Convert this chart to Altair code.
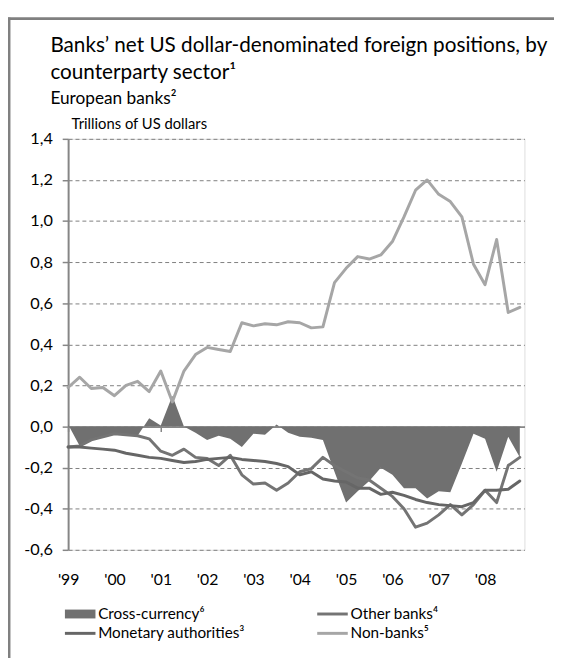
import json
import altair as alt
import pandas as pd

# ---------------- data ----------------
QUARTERS = list(range(40))  # 1999Q1 ... 2008Q4 (quarter index)
YEAR_TICKS = [0, 4, 8, 12, 16, 20, 24, 28, 32, 36]
YEAR_LABELS = ["'99", "'00", "'01", "'02", "'03", "'04", "'05", "'06", "'07", "'08"]
Y_TICKS = [-0.6, -0.4, -0.2, 0.0, 0.2, 0.4, 0.6, 0.8, 1.0, 1.2, 1.4]

SERIES = ["Cross-currency⁶", "Other banks⁴", "Monetary authorities³", "Non-banks⁵"]
COLORS = ["#707070", "#747474", "#666666", "#a6a6a6"]

CROSS_CURRENCY = [0.01, -0.095, -0.065, -0.05, -0.035, -0.04, -0.045, 0.04, 0.005, 0.15,
                  0.0, -0.03, -0.065, -0.045, -0.06, -0.10, -0.035, -0.04, 0.01, -0.03,
                  -0.05, -0.055, -0.065, -0.22, -0.37, -0.315, -0.265, -0.20, -0.235, -0.30,
                  -0.30, -0.35, -0.315, -0.32, -0.18, -0.035, -0.06, -0.22, -0.05, -0.15]
OTHER_BANKS = [-0.10, -0.095, -0.065, -0.05, -0.035, -0.04, -0.045, -0.06, -0.12, -0.14,
               -0.11, -0.15, -0.155, -0.19, -0.14, -0.235, -0.28, -0.275, -0.31, -0.275,
               -0.22, -0.205, -0.15, -0.19, -0.22, -0.25, -0.26, -0.30, -0.34, -0.40,
               -0.49, -0.47, -0.43, -0.38, -0.43, -0.38, -0.31, -0.37, -0.19, -0.15]
MONETARY = [-0.10, -0.10, -0.105, -0.11, -0.115, -0.13, -0.14, -0.15, -0.155, -0.165,
            -0.175, -0.17, -0.16, -0.155, -0.15, -0.16, -0.165, -0.17, -0.18, -0.195,
            -0.235, -0.22, -0.255, -0.265, -0.27, -0.30, -0.30, -0.33, -0.32, -0.335,
            -0.355, -0.37, -0.38, -0.385, -0.39, -0.37, -0.31, -0.31, -0.305, -0.265]
NON_BANKS = [0.19, 0.24, 0.185, 0.19, 0.15, 0.20, 0.22, 0.17, 0.27, 0.12,
             0.27, 0.35, 0.385, 0.375, 0.365, 0.505, 0.49, 0.50, 0.495, 0.51,
             0.505, 0.48, 0.485, 0.70, 0.77, 0.827, 0.815, 0.835, 0.90, 1.02,
             1.15, 1.20, 1.13, 1.095, 1.02, 0.79, 0.69, 0.91, 0.555, 0.58]

VALUES = [CROSS_CURRENCY, OTHER_BANKS, MONETARY, NON_BANKS]
rows = []
for name, vals in zip(SERIES, VALUES):
    for q, v in zip(QUARTERS, vals):
        rows.append({"q": q, "series": name, "value": v})
df = pd.DataFrame(rows)

FONT = "Lato"
GRID = "#7f7f7f"
AXIS = "#868686"

xscale = alt.Scale(domain=[0, 39.4], nice=False, zero=False)
yscale = alt.Scale(domain=[-0.6, 1.4], nice=False)

xaxis = alt.Axis(values=YEAR_TICKS, labelExpr=f"{json.dumps(YEAR_LABELS)}[round(datum.value/4)]",
                 offset=-125, grid=False, domainColor=AXIS, domainWidth=2, tickColor=AXIS,
                 tickWidth=1.5, tickSize=5, labelPadding=142, labelFontSize=16, labelFont=FONT,
                 labelColor="black", title=None, labelFlush=False)
yaxis = alt.Axis(values=Y_TICKS,
                 labelExpr="(datum.value < -0.001 ? '-' : '') + replace(format(abs(datum.value), '.1f'), '.', ',')",
                 grid=True, gridDash=[4, 3], gridColor=GRID, gridWidth=1,
                 domainColor=AXIS, domainWidth=2, tickColor=AXIS, tickWidth=1.5, tickSize=6,
                 labelPadding=10, labelFontSize=16.5, labelFont=FONT, labelColor="black",
                 title="Trillions of US dollars", titleAngle=0, titleAlign="left",
                 titleBaseline="bottom", titleX=3, titleY=-7, titleFont=FONT,
                 titleFontSize=15, titleFontWeight="normal", titleColor="black")

base = alt.Chart(df)
X = alt.X("q:Q", scale=xscale, axis=xaxis)
Y = alt.Y("value:Q", scale=yscale, axis=yaxis)

area = base.transform_filter(alt.datum.series == SERIES[0]).mark_area(
    color=COLORS[0], opacity=1, line=False
).encode(x=X, y=Y)

line_layers = []
for name, col in zip(SERIES[1:], COLORS[1:]):
    line_layers.append(
        base.transform_filter(alt.datum.series == name).mark_line(
            color=col, strokeWidth=3, strokeJoin="round", strokeCap="round"
        ).encode(x=X, y=Y, order=alt.Order("q:Q"))
    )

RECT_PATH = "M-1,-0.9H5.2V0.9H-1Z"
LINE_PATH = "M-1,-0.3H5.2V0.3H-1Z"
legend = alt.Legend(
    title=None, orient="none", legendX=-6, legendY=474, columns=2, direction="horizontal",
    columnPadding=70, rowPadding=3, symbolSize=100, labelOffset=21,
    labelFont=FONT, labelFontSize=15.5, labelColor="black", labelLimit=300,
    symbolStrokeWidth=0, symbolOpacity=1,
)
legend_layer = base.mark_point(filled=True, opacity=0).encode(
    x=X, y=Y,
    color=alt.Color("series:N", scale=alt.Scale(domain=SERIES, range=COLORS), legend=legend),
    shape=alt.Shape("series:N",
                    scale=alt.Scale(domain=SERIES, range=[RECT_PATH, LINE_PATH, LINE_PATH, LINE_PATH]),
                    legend=legend),
)

one = pd.DataFrame({"k": [0]})
frame_left = alt.Chart(one).mark_rule(color="#808080", strokeWidth=3).encode(
    x=alt.value(-60), y=alt.value(-123), y2=alt.value(540))
frame_top = alt.Chart(one).mark_rule(color="#808080", strokeWidth=3).encode(
    x=alt.value(-61.5), x2=alt.value(500), y=alt.value(-122))

chart = alt.layer(area, *line_layers, legend_layer, frame_left, frame_top).properties(
    width=463, height=417,
    padding={"left": 61, "top": 128, "right": 30, "bottom": 105},
    autosize=alt.AutoSizeParams(type="none"),
    title=alt.TitleParams(
        text=["Banks’ net US dollar-denominated foreign positions, by", "counterparty sector¹"],
        subtitle="European banks²", anchor="start", frame="group", dx=-18, dy=103,
        font=FONT, fontSize=21, fontWeight="normal", lineHeight=27, color="black",
        subtitleFont=FONT, subtitleFontSize=17.5, subtitleColor="black", subtitlePadding=8,
        offset=10,
    ),
).configure_view(stroke=None).configure(background="white")

chart.save("out.html", embed_options={"renderer": "svg", "actions": False})
